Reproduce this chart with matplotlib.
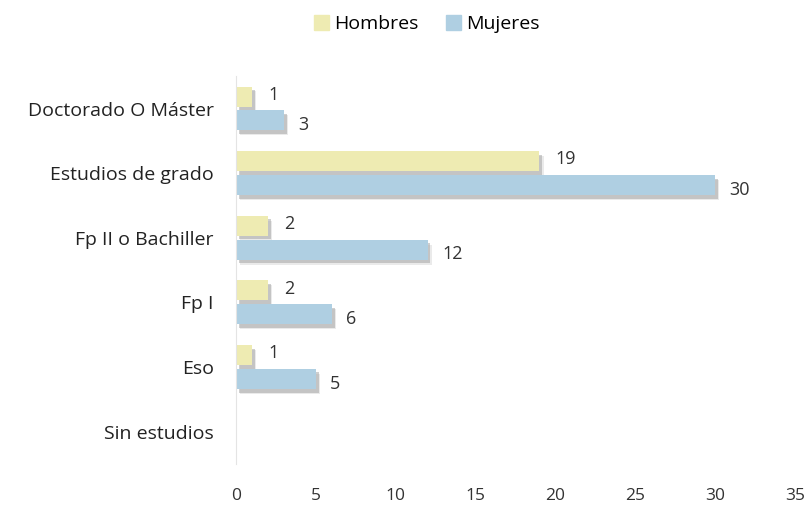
import numpy as np
import matplotlib
matplotlib.use("Agg")
import matplotlib.pyplot as plt
import matplotlib.patheffects as pe
from matplotlib.patches import Patch

categorias = ["Sin estudios", "Eso", "Fp I", "Fp II o Bachiller",
              "Estudios de grado", "Doctorado O Máster"]
hombres = [0, 1, 2, 2, 19, 1]
mujeres = [0, 5, 6, 12, 30, 3]
xticks = [0, 5, 10, 15, 20, 25, 30, 35]

col_h = "#EEEBB2"
col_m = "#AFCFE2"

plt.rcParams["font.family"] = ["Open Sans", "DejaVu Sans"]

fig = plt.figure(figsize=(8.09, 5.08), dpi=100)
ax = fig.add_axes([0.2917, 0.0866, 0.691, 0.7634])

y = np.arange(len(categorias))
h = 0.31
off = 0.185
sombra = [pe.SimplePatchShadow(offset=(2, -2.5), shadow_rgbFace="#777777", alpha=0.35),
          pe.SimplePatchShadow(offset=(3, -3.5), shadow_rgbFace="#999999", alpha=0.2),
          pe.Normal()]

bh = ax.barh(y + off, hombres, height=h, color=col_h)
bm = ax.barh(y - off, mujeres, height=h, color=col_m)
for b in list(bh) + list(bm):
    b.set_path_effects(sombra)

for yi, v in zip(y, hombres):
    if v:
        ax.text(v + 1.0, yi + off + 0.03, str(v), va="center", ha="left",
                fontsize=13, color="#333333")
for yi, v in zip(y, mujeres):
    if v:
        ax.text(v + 0.9, yi - off - 0.07, str(v), va="center", ha="left",
                fontsize=13, color="#333333")

ax.set_xlim(0, 35)
ax.set_ylim(-0.5, 5.5)
ax.set_xticks(xticks)
ax.set_xticklabels([str(t) for t in xticks], fontsize=12.5, color="#333333")
ax.set_yticks(y)
ax.set_yticklabels(categorias, fontsize=14, color="#222222")
ax.tick_params(axis="both", length=0)
ax.tick_params(axis="x", pad=17)
ax.tick_params(axis="y", pad=16)
for s in ["top", "right", "bottom"]:
    ax.spines[s].set_visible(False)
ax.spines["left"].set_color("#e4e4e4")

handles = [Patch(color=col_h), Patch(color=col_m)]
fig.legend(handles=handles, labels=["Hombres", "Mujeres"], loc="center",
           bbox_to_anchor=(0.528, 0.952), ncol=2, frameon=False,
           fontsize=14, handlelength=0.75, handleheight=0.75,
           handletextpad=0.3, columnspacing=1.4)

fig.savefig("out.png", dpi=100)
